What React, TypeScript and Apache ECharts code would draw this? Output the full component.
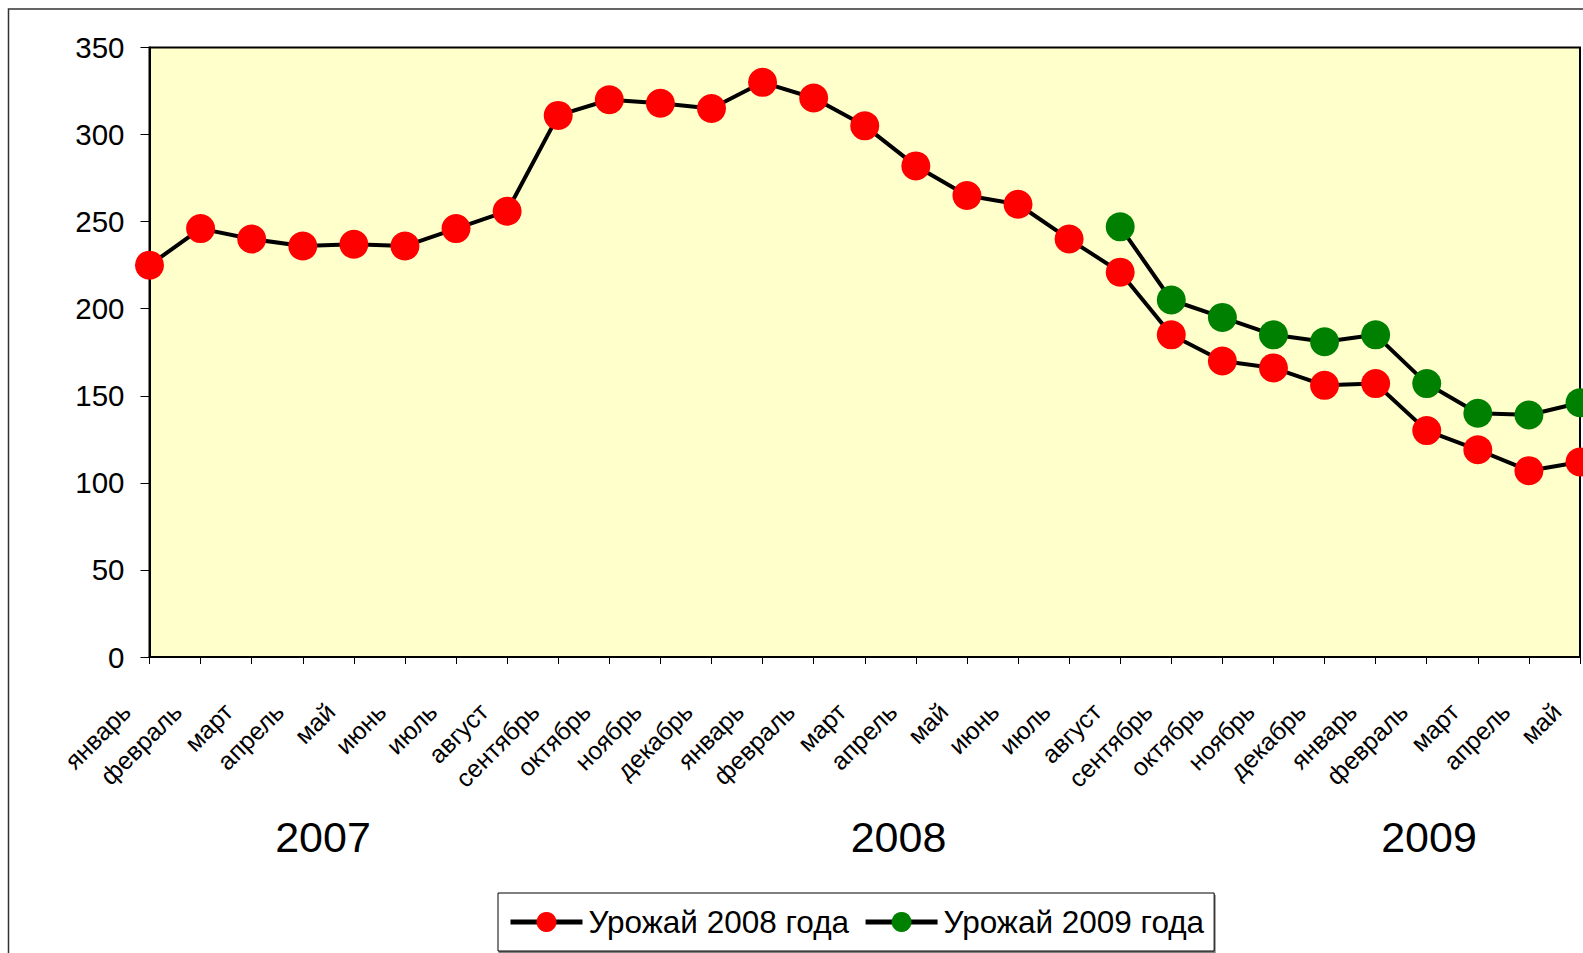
import React, { useEffect, useRef } from "react";
import * as echarts from "echarts";

const months = [
  "январь", "февраль", "март", "апрель", "май", "июнь", "июль", "август",
  "сентябрь", "октябрь", "ноябрь", "декабрь",
  "январь", "февраль", "март", "апрель", "май", "июнь", "июль", "август",
  "сентябрь", "октябрь", "ноябрь", "декабрь",
  "январь", "февраль", "март", "апрель", "май",
];

const harvest2008 = [
  225, 246, 240, 236, 237, 236, 246, 256, 311, 320, 318, 315,
  330, 321, 305, 282, 265, 260, 240, 221, 185, 170, 166, 156,
  157, 130, 119, 107, 112,
];

const harvest2009 = [
  null, null, null, null, null, null, null, null, null, null, null, null,
  null, null, null, null, null, null, null, 247, 205, 195, 185, 181,
  185, 157, 140, 139, 146,
];

const seriesNames = ["Урожай 2008 года", "Урожай 2009 года"];
const yearLabels = ["2007", "2008", "2009"];
const yTicks = { min: 0, max: 350, interval: 50 };

const FONT = "'Liberation Sans', Arial, sans-serif";

export default function App() {
  const ref = useRef<HTMLDivElement>(null);

  useEffect(() => {
    if (!ref.current) return;
    const chart = echarts.init(ref.current, null, { renderer: "svg" });
    const yearText = (text: string, x: number) => ({
      type: "text",
      x,
      y: 837,
      silent: true,
      style: { text, fill: "#000", font: `43px ${FONT}`, align: "center", verticalAlign: "middle" },
    });
    const option: any = {
      animation: false,
      backgroundColor: "#ffffff",
      textStyle: { fontFamily: FONT },
      grid: {
        left: 149.5,
        right: 3,
        top: 47.5,
        bottom: 296,
        show: true,
        backgroundColor: "#FFFFCC",
        borderColor: "#000000",
        borderWidth: 2,
        containLabel: false,
      },
      xAxis: {
        type: "category",
        data: months,
        boundaryGap: false,
        axisLine: { show: true, lineStyle: { color: "#000", width: 2 } },
        axisTick: { show: true, length: 7, lineStyle: { color: "#000", width: 1 } },
        axisLabel: {
          interval: 0,
          rotate: 45,
          margin: 27,
          padding: [0, 33, 0, 0],
          fontSize: 25,
          color: "#000",
          fontFamily: FONT,
        },
        splitLine: { show: false },
      },
      yAxis: {
        type: "value",
        min: yTicks.min,
        max: yTicks.max,
        interval: yTicks.interval,
        axisLine: { show: true, lineStyle: { color: "#000", width: 2 } },
        axisTick: { show: true, length: 9, lineStyle: { color: "#000", width: 1 } },
        axisLabel: {
          margin: 25,
          fontSize: 29.5,
          color: "#000",
          fontFamily: FONT,
        },
        splitLine: { show: false },
      },
      legend: {
        left: 498,
        top: 893,
        orient: "horizontal",
        padding: [13, 10, 13, 10],
        itemGap: 14,
        itemWidth: 72,
        itemHeight: 25,
        borderColor: "#000",
        borderWidth: 1,
        backgroundColor: "#fff",
        shadowColor: "rgba(0,0,0,0.5)",
        shadowOffsetX: 1,
        shadowOffsetY: 2,
        shadowBlur: 0,
        lineStyle: { color: "#000", width: 5 },
        textStyle: { fontSize: 31.5, color: "#000", fontFamily: FONT, padding: [0, 0, 0, 1] },
        data: seriesNames,
      },
      graphic: [
        {
          type: "rect",
          shape: { x: 8.5, y: 9, width: 1700, height: 1100 },
          style: { fill: "none", stroke: "#333", lineWidth: 1.5 },
          z: -1,
          silent: true,
        },
        yearText(yearLabels[0], 323),
        yearText(yearLabels[1], 898.5),
        yearText(yearLabels[2], 1429),
      ],
      series: [
        {
          name: seriesNames[0],
          type: "line",
          data: harvest2008,
          symbol: "circle",
          symbolSize: 29,
          showAllSymbol: true,
          lineStyle: { color: "#000", width: 4 },
          itemStyle: { color: "#FF0000", borderWidth: 0 },
          emphasis: { disabled: true },
        },
        {
          name: seriesNames[1],
          type: "line",
          data: harvest2009,
          symbol: "circle",
          symbolSize: 29,
          showAllSymbol: true,
          lineStyle: { color: "#000", width: 4 },
          itemStyle: { color: "#008000", borderWidth: 0 },
          emphasis: { disabled: true },
        },
      ],
    };
    chart.setOption(option);
    return () => chart.dispose();
  }, []);

  return (
    <div
      ref={ref}
      style={{ position: "absolute", left: 0, top: 0, width: 1583, height: 953 }}
    />
  );
}
